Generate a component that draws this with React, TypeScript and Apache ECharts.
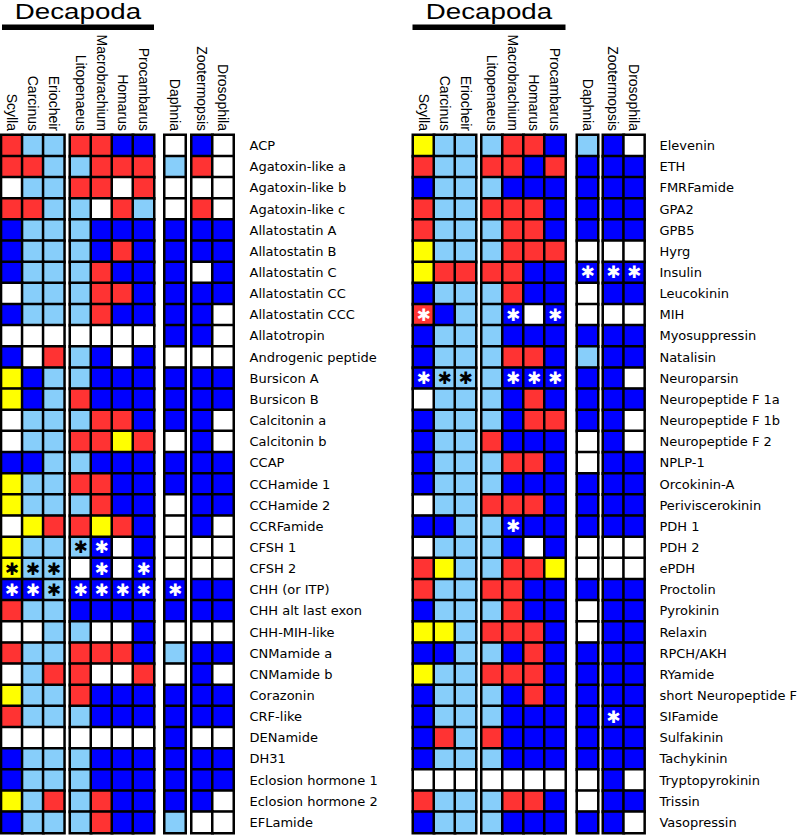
import React, { useEffect, useRef } from "react";
import * as echarts from "echarts";

const species = ["Scylla", "Carcinus", "Eriocheir", "Litopenaeus", "Macrobrachium", "Homarus", "Procambarus", "Daphnia", "Zootermopsis", "Drosophila"];
const groups = [[0, 1, 2], [3, 4, 5, 6], [7], [8, 9]];
const headerTitle = "Decapoda";
const starGlyph = "✱";

const leftRows = ["ACP", "Agatoxin-like a", "Agatoxin-like b", "Agatoxin-like c", "Allatostatin A", "Allatostatin B", "Allatostatin C", "Allatostatin CC", "Allatostatin CCC", "Allatotropin", "Androgenic peptide", "Bursicon A", "Bursicon B", "Calcitonin a", "Calcitonin b", "CCAP", "CCHamide 1", "CCHamide 2", "CCRFamide", "CFSH 1", "CFSH 2", "CHH (or ITP)", "CHH alt last exon", "CHH-MIH-like", "CNMamide a", "CNMamide b", "Corazonin", "CRF-like", "DENamide", "DH31", "Eclosion hormone 1", "Eclosion hormone 2", "EFLamide"];
// W white, L light blue, B blue, R red, Y yellow
const leftCells = ["RLLRRBBWBW", "RRLLRRRLRW", "WLLRRWRWWW", "RRLLWRLWRW", "BLLLBBBBBB", "BLLLBRBBBB", "BLLLRBBBWB", "WLLLRRBBBB", "BLLLRBBBBW", "WWWWWWWBBW", "BWRLBWBWWW", "YBLLBBBBBB", "YBLRBBBBBB", "WLLLRRBBBW", "WLLRRYRWBW", "BBLLBBBBBB", "YLLRRBBBBB", "YLLLRBBWBB", "WYRRYRBWBW", "YLLLBWBWWW", "YLLWBWBWWW", "BBLBBBBBBB", "RLLBBBBBBB", "WWLLWWBWWW", "RLLRRRBLBB", "WLRRWWRWBW", "YLLRBBBBBB", "RLLLBBBBBB", "WWWWWWWBWW", "BLLLBBBBBB", "BLLLBBBBBB", "YLRLRBBBBW", "BLLLRBBLWW"];
const leftStars = [[19, 3], [19, 4], [20, 0], [20, 1], [20, 2], [20, 4], [20, 6], [21, 0], [21, 1], [21, 2], [21, 3], [21, 4], [21, 5], [21, 6], [21, 7]];

const rightRows = ["Elevenin", "ETH", "FMRFamide", "GPA2", "GPB5", "Hyrg", "Insulin", "Leucokinin", "MIH", "Myosuppressin", "Natalisin", "Neuroparsin", "Neuropeptide F 1a", "Neuropeptide F 1b", "Neuropeptide F 2", "NPLP-1", "Orcokinin-A", "Periviscerokinin", "PDH 1", "PDH 2", "ePDH", "Proctolin", "Pyrokinin", "Relaxin", "RPCH/AKH", "RYamide", "short Neuropeptide F", "SIFamide", "Sulfakinin", "Tachykinin", "Tryptopyrokinin", "Trissin", "Vasopressin"];
const rightCells = ["YLLLRRBLBW", "RLLRRBRBBB", "BLLLBBBBBB", "RLLRRRBBBB", "RLLLRRBBBB", "YLLLRRRWWW", "YRRRRBBBBB", "BLLLRBBWBB", "RBLLBWBWWW", "BLLLBBBBBB", "BLLLRRBLBB", "BLLLBBBBBW", "WLLLBRBBBB", "BLLLBRRBBW", "BLLRBBBWBW", "BLLLRRBWBB", "BLLLBBBBBB", "WLLRRRBBBB", "BBLLBBBBBB", "WLLLBWBWWW", "RYLLRRYWWW", "RLLRRBBBBB", "BLLLRBBWBB", "YYLRRRBWBB", "BBLLBRBBBB", "YLLRRRBBBB", "BLLLBRBBBB", "BLLLBBBBBB", "BRLRBBBBBB", "BLLLBBBBBB", "WWWWWWWWBW", "RLLLRRBWBB", "BLLLBBBBBW"];
const rightStars = [[6, 7], [6, 8], [6, 9], [8, 0], [8, 4], [8, 6], [11, 0], [11, 1], [11, 2], [11, 4], [11, 5], [11, 6], [18, 4], [27, 8]];

const codeValue: Record<string, number> = { W: 0, L: 1, B: 2, R: 3, Y: 4 };
const palette = ["#ffffff", "#87cefa", "#0000ff", "#ff3333", "#ffff00"];

const panels = [
  { rows: leftRows, cells: leftCells, stars: leftStars, lefts: [1.3, 70, 164.5, 191.5], labelMargin: 16, barX: 2, barW: 152, titleX: 78 },
  { rows: rightRows, cells: rightCells, stars: rightStars, lefts: [413, 481.5, 577, 603], labelMargin: 15, barX: 412.5, barW: 153, titleX: 489 },
];
const CELL_W = 21;
const GRID_TOP = 135;
const GRID_H = 698;

export default function App() {
  const ref = useRef<HTMLDivElement>(null);
  useEffect(() => {
    document.body.style.margin = "0";
    const chart = echarts.init(ref.current!, null, { renderer: "svg" });
    const grid: any[] = [];
    const xAxis: any[] = [];
    const yAxis: any[] = [];
    const series: any[] = [];
    const graphic: any[] = [];
    panels.forEach((p) => {
      groups.forEach((cols, gi) => {
        const idx = grid.length;
        grid.push({ left: p.lefts[gi], top: GRID_TOP, width: cols.length * CELL_W, height: GRID_H, show: false });
        xAxis.push({
          type: "category", gridIndex: idx, position: "top", data: cols.map((c) => species[c]),
          axisLine: { show: false }, axisTick: { show: false }, splitLine: { show: false },
          axisLabel: { show: true, rotate: 90, interval: 0, margin: 4, color: "#000", fontFamily: "Liberation Sans", fontSize: 14 },
        });
        const last = gi === groups.length - 1;
        yAxis.push({
          type: "category", gridIndex: idx, inverse: true, position: "right", data: p.rows,
          axisLine: { show: false }, axisTick: { show: false }, splitLine: { show: false },
          axisLabel: { show: last, interval: 0, margin: p.labelMargin, color: "#000", fontFamily: "DejaVu Sans", fontSize: 13, align: "left" },
        });
        const data: any[] = [];
        p.cells.forEach((row, r) => {
          cols.forEach((c, ci) => {
            const v = codeValue[row[c]];
            const star = p.stars.some((s) => s[0] === r && s[1] === c);
            const item: any = { value: [ci, r, v] };
            if (star) {
              item.label = {
                show: true, formatter: starGlyph, color: v === 1 || v === 4 ? "#000" : "#fff",
                fontSize: 17, fontFamily: "DejaVu Sans", lineHeight: 17,
              };
            }
            data.push(item);
          });
        });
        series.push({
          type: "heatmap", xAxisIndex: idx, yAxisIndex: idx, data,
          label: { show: false },
          itemStyle: { borderColor: "#000", borderWidth: 2.5 },
          emphasis: { disabled: true },
        });
      });
      graphic.push({ type: "rect", shape: { x: p.barX, y: 24.5, width: p.barW, height: 5.5 }, style: { fill: "#000" } });
      graphic.push({
        type: "text", x: p.titleX, y: 11, scaleX: 1.26,
        style: { text: headerTitle, x: 0, y: 0, fill: "#000", font: "22px 'Liberation Sans'", align: "center", verticalAlign: "middle" },
      });
    });
    chart.setOption({
      animation: false,
      backgroundColor: "#fff",
      grid, xAxis, yAxis, series, graphic,
      visualMap: {
        type: "piecewise", show: false, dimension: 2,
        pieces: palette.map((color, i) => ({ value: i, color })),
      },
    });
    return () => chart.dispose();
  }, []);
  return <div ref={ref} style={{ width: 800, height: 835 }} />;
}
